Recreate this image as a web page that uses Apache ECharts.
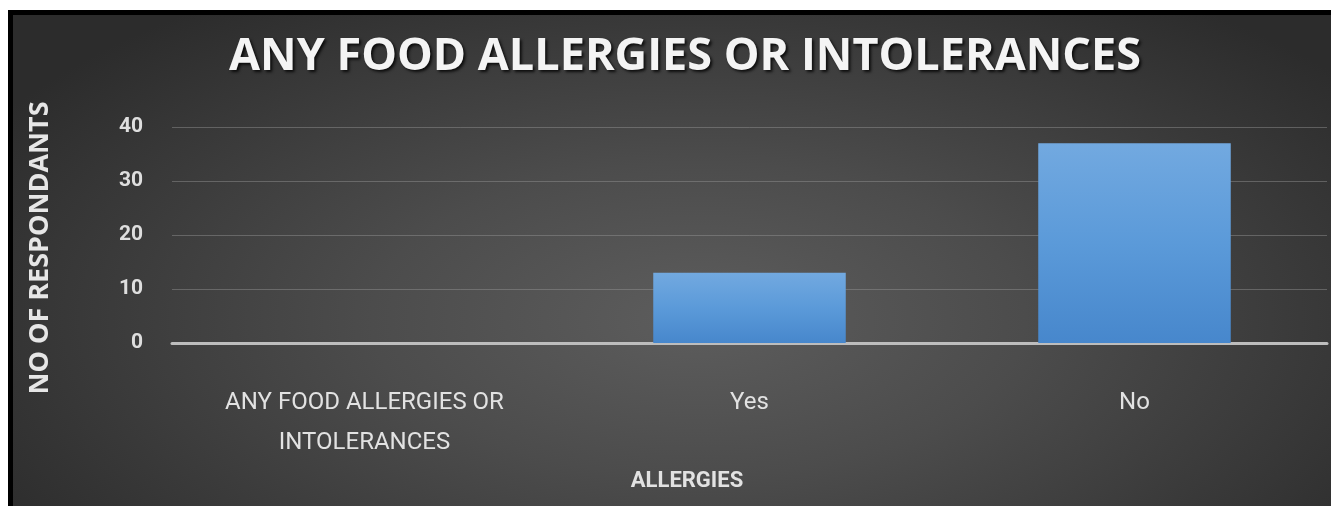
<!DOCTYPE html>
<html>
<head>
<meta charset="utf-8">
<script src="https://cdn.jsdelivr.net/npm/echarts@6/dist/echarts.min.js"></script>
<style>
    html, body { margin: 0; padding: 0; background: #fff; }
    #bg {
        position: absolute; left: 8px; top: 10px; width: 1318px; height: 491px;
        border-top: 5px solid #000; border-left: 5px solid #000;
        background: radial-gradient(ellipse 62% 80% at 52% 62%, #5d5d5d 0%, #4c4c4c 40%, #2c2c2c 100%);
    }
    #chart { position: absolute; left: 0; top: 0; width: 1331px; height: 506px; }
</style>
</head>
<body>
<div id="bg"></div>
<div id="chart"></div>
<script>
const categories = ['ANY FOOD ALLERGIES OR INTOLERANCES', 'Yes', 'No']
const respondents = [0, 13, 37]
const yTicks = { min: 0, max: 40, interval: 10 }

const chart = echarts.init(document.getElementById('chart'))

const option = {
    backgroundColor: 'transparent',
    title: [
        {
            text: 'ANY FOOD ALLERGIES OR INTOLERANCES',
            left: 680,
            top: 30,
            textAlign: 'center',
            textStyle: {
                color: '#f4f4f4',
                fontFamily: 'Open Sans',
                fontWeight: 'bold',
                fontSize: 45,
                textShadowColor: 'rgba(0,0,0,0.8)',
                textShadowBlur: 3,
                textShadowOffsetX: 2,
                textShadowOffsetY: 2
            }
        },
        {
            text: 'ALLERGIES',
            left: 682,
            top: 465,
            textAlign: 'center',
            textStyle: {
                color: '#e2e2e2',
                fontFamily: 'Roboto',
                fontWeight: 'bold',
                fontSize: 22
            }
        }
    ],
    grid: { left: 172, right: 4, top: 127, bottom: 163 },
    xAxis: {
        type: 'category',
        data: categories,
        axisTick: { show: false },
        axisLine: { lineStyle: { color: '#bdbdbd', width: 3 } },
        axisLabel: {
            interval: 0,
            margin: 40,
            color: '#e2e2e2',
            fontFamily: 'Roboto',
            fontSize: 24,
            lineHeight: 40,
            formatter: v => v.replace(' OR ', ' OR\n')
        }
    },
    yAxis: {
        type: 'value',
        min: yTicks.min,
        max: yTicks.max,
        interval: yTicks.interval,
        name: 'NO OF RESPONDANTS',
        nameLocation: 'middle',
        nameGap: 118,
        nameRotate: 90,
        nameTextStyle: {
            color: '#e6e6e6',
            fontFamily: 'Open Sans',
            fontWeight: 'bold',
            fontSize: 27,
            padding: [0, 26, 0, 0]
        },
        axisLine: { show: false },
        axisTick: { show: false },
        axisLabel: {
            margin: 29,
            color: '#dedede',
            fontFamily: 'Roboto',
            fontWeight: 'bold',
            fontSize: 21
        },
        splitLine: { lineStyle: { color: 'rgba(150,150,150,0.45)', width: 1 } }
    },
    series: [
        {
            type: 'bar',
            data: respondents,
            barWidth: '50%',
            itemStyle: {
                color: new echarts.graphic.LinearGradient(0, 0, 0, 1, [
                    { offset: 0, color: '#72a9e0' },
                    { offset: 0.5, color: '#5b9ad9' },
                    { offset: 1, color: '#4787cc' }
                ]),
                shadowColor: 'rgba(0,0,0,0.6)',
                shadowBlur: 6
            }
        }
    ]
}

chart.setOption(option)
</script>
</body>
</html>
